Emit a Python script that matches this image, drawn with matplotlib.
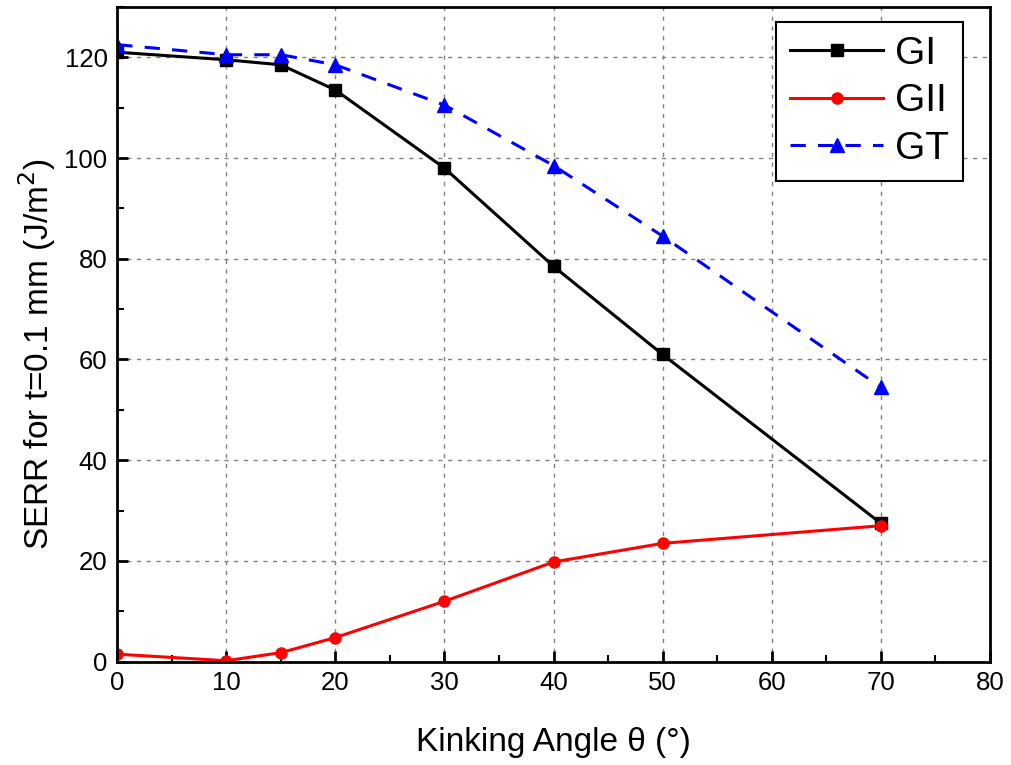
import matplotlib
matplotlib.use("Agg")
import matplotlib.pyplot as plt
from matplotlib.ticker import MultipleLocator

plt.rcParams["font.family"] = ["Liberation Sans", "DejaVu Sans"]

# Datos
angulos = [0, 10, 15, 20, 30, 40, 50, 70]
gi = [121.0, 119.5, 118.5, 113.5, 98.0, 78.5, 61.0, 27.5]
gii = [1.5, 0.2, 1.8, 4.8, 12.0, 19.8, 23.5, 27.0]
gt = [122.5, 120.5, 120.5, 118.5, 110.5, 98.5, 84.5, 54.5]

fig = plt.figure(figsize=(10.11, 7.65), dpi=100)
ax = fig.add_axes([0.116, 0.135, 0.863, 0.856])

ax.plot(angulos, gi, color="black", lw=2.2, marker="s", ms=8, label="GI")
ax.plot(angulos, gii, color="red", lw=2.2, marker="o", ms=8, label="GII")
ax.plot(angulos, gt, color="blue", lw=2.2, ls=(0, (5, 4)), marker="^", ms=10, label="GT")

ax.set_xlim(0, 80)
ax.set_ylim(0, 130)
ax.xaxis.set_major_locator(MultipleLocator(10))
ax.xaxis.set_minor_locator(MultipleLocator(5))
ax.yaxis.set_major_locator(MultipleLocator(20))
ax.yaxis.set_minor_locator(MultipleLocator(10))
ax.tick_params(which="major", direction="in", length=8, width=2, labelsize=18.5, pad=7)
ax.tick_params(which="minor", direction="in", length=5, width=1.5)

for s in ax.spines.values():
    s.set_linewidth(2)

ax.grid(True, which="major", color="gray", ls=(0, (3, 4)), lw=1)
ax.set_axisbelow(True)

ax.set_xlabel("Kinking Angle θ (°)", fontsize=24)
ax.set_ylabel("SERR for t=0.1 mm (J/m$^2$)", fontsize=24)
ax.xaxis.set_label_coords(0.5, -0.1)
ax.yaxis.set_label_coords(-0.068, 0.47)

leg = ax.legend(loc="upper right", fontsize=28, frameon=True, fancybox=False,
                edgecolor="black", framealpha=1, handlelength=2.4,
                bbox_to_anchor=(0.969, 0.977), borderaxespad=0,
                borderpad=0.35, labelspacing=0.3, handletextpad=0.3)
leg.get_frame().set_linewidth(1.5)

plt.savefig("out.png", dpi=100)
